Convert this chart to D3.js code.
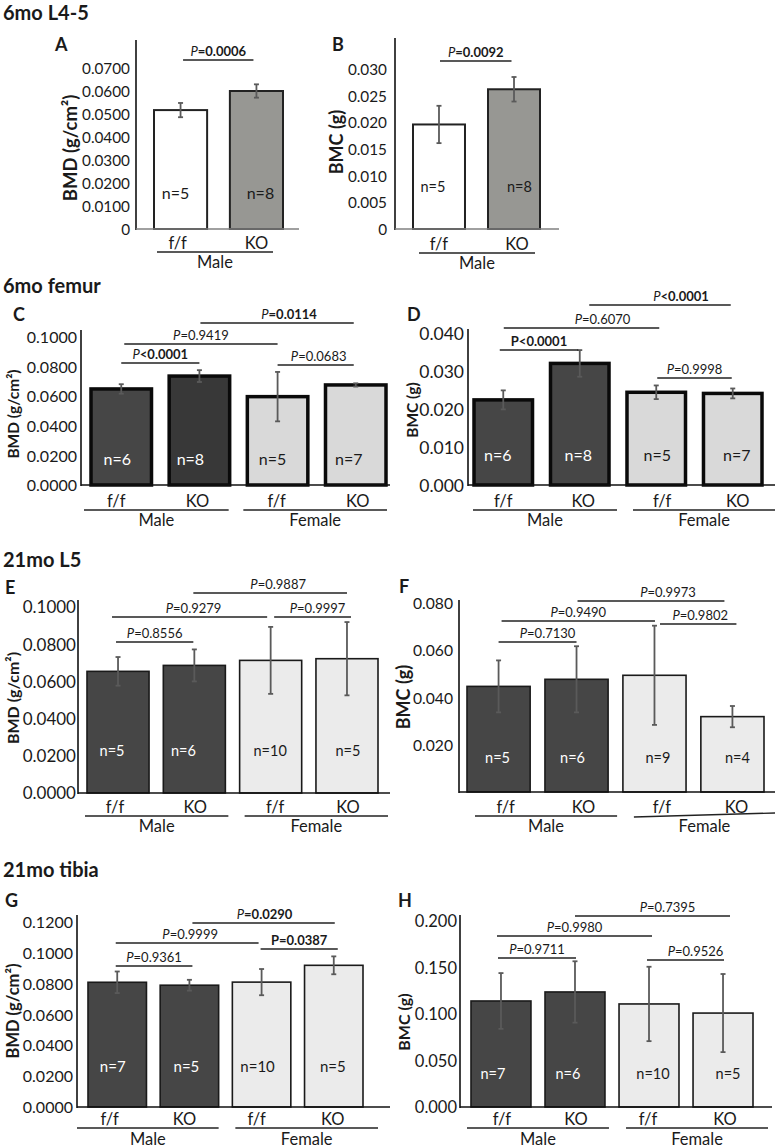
<!DOCTYPE html>
<html><head><meta charset="utf-8">
<script src="https://cdn.jsdelivr.net/npm/d3@7"></script>
<style>
body{margin:0;background:#fff}
svg{display:block}
text{font-family:Lato,"Open Sans",sans-serif;fill:#1a1a1a}
</style>
</head><body>
<svg id="fig" width="776" height="1148"></svg>
<script>
// ---------------- DATA ----------------
const sectionTitles = ["6mo L4-5", "6mo femur", "21mo L5", "21mo tibia"];
const genotypes2 = ["f/f", "KO"];
const genotypes4 = ["f/f", "KO", "f/f", "KO"];
const sexes1 = ["Male"];
const sexes2 = ["Male", "Female"];
const pairs4 = [[0, 1], [0, 2], [1, 3], [2, 3]];

// A: 6mo L4-5 BMD
const ticksA = [0, 0.01, 0.02, 0.03, 0.04, 0.05, 0.06, 0.07];
const meanA = [0.0517, 0.0600];
const errA = [0.0031, 0.0029];
const nA = ["n=5", "n=8"];
const pA = ["P=0.0006"];

// B: 6mo L4-5 BMC
const ticksB = [0, 0.005, 0.010, 0.015, 0.020, 0.025, 0.030];
const meanB = [0.0196, 0.0262];
const errB = [0.0035, 0.0023];
const nB = ["n=5", "n=8"];
const pB = ["P=0.0092"];

// C: 6mo femur BMD
const ticksC = [0, 0.02, 0.04, 0.06, 0.08, 0.10];
const meanC = [0.0649, 0.0736, 0.0597, 0.0676];
const errC = [0.0032, 0.0040, 0.0167, 0.0011];
const nC = ["n=6", "n=8", "n=5", "n=7"];
const pC = ["P<0.0001", "P=0.9419", "P=0.0114", "P=0.0683"];

// D: 6mo femur BMC
const ticksD = [0, 0.010, 0.020, 0.030, 0.040];
const meanD = [0.0224, 0.0320, 0.0244, 0.0241];
const errD = [0.0025, 0.0035, 0.0018, 0.0013];
const nD = ["n=6", "n=8", "n=5", "n=7"];
const pD = ["P<0.0001", "P=0.6070", "P<0.0001", "P=0.9998"];

// E: 21mo L5 BMD
const ticksE = [0, 0.02, 0.04, 0.06, 0.08, 0.10];
const meanE = [0.0654, 0.0686, 0.0713, 0.0722];
const errE = [0.0077, 0.0086, 0.0180, 0.0197];
const nE = ["n=5", "n=6", "n=10", "n=5"];
const pE = ["P=0.8556", "P=0.9279", "P=0.9887", "P=0.9997"];

// F: 21mo L5 BMC
const ticksF = [0.020, 0.040, 0.060, 0.080];
const meanF = [0.0447, 0.0477, 0.0494, 0.0319];
const errF = [0.0110, 0.0140, 0.0210, 0.0045];
const nF = ["n=5", "n=6", "n=9", "n=4"];
const pF = ["P=0.7130", "P=0.9490", "P=0.9973", "P=0.9802"];

// G: 21mo tibia BMD
const ticksG = [0, 0.02, 0.04, 0.06, 0.08, 0.10, 0.12];
const meanG = [0.0809, 0.0790, 0.0810, 0.0919];
const errG = [0.0070, 0.0035, 0.0085, 0.0058];
const nG = ["n=7", "n=5", "n=10", "n=5"];
const pG = ["P=0.9361", "P=0.9999", "P=0.0290", "P=0.0387"];

// H: 21mo tibia BMC
const ticksH = [0, 0.050, 0.100, 0.150, 0.200];
const meanH = [0.114, 0.1237, 0.1108, 0.101];
const errH = [0.030, 0.033, 0.040, 0.042];
const nH = ["n=7", "n=6", "n=10", "n=5"];
const pH = ["P=0.9711", "P=0.9980", "P=0.7395", "P=0.9526"];

// ---------------- LAYOUT / STYLE ----------------
const f4 = v => d3.format(".4f")(v);
const f3 = v => d3.format(".3f")(v);
const DARK = "#464646", DARK2 = "#383838", LIGHTC = "#d9d9d9", LIGHTE = "#ebebeb";
const W = "#ffffff", K = "#1a1a1a";

const svg = d3.select("#fig");

function drawPanel(D, L) {
  const g = svg.append("g");
  const ymax = d3.max(D.ticks);
  const y = d3.scaleLinear().domain([0, ymax]).range([L.y0, L.yTop]);
  const x = d3.scaleBand().domain(d3.range(D.cats.length)).range([L.b0, L.b1])
    .paddingInner(L.pi).paddingOuter(0);
  const cx = i => x(i) + x.bandwidth() / 2;

  // y axis labels
  const axis = d3.axisLeft(y).tickValues(D.ticks).tickSize(0).tickPadding(L.tickGap).tickFormat(L.fmt);
  const ag = g.append("g").attr("transform", `translate(${L.ax},0)`).call(axis);
  ag.select(".domain").remove();
  ag.attr("font-family", null).attr("font-size", null);
  ag.selectAll("text").attr("font-size", L.tickFs).attr("fill", K).attr("dy", "0.35em");

  // bars
  g.selectAll("rect.bar").data(D.mean).join("rect")
    .attr("x", (d, i) => x(i)).attr("width", x.bandwidth())
    .attr("y", d => y(d)).attr("height", d => L.y0 - y(d))
    .attr("fill", (d, i) => L.fills[i]).attr("stroke", L.stroke).attr("stroke-width", L.sw);

  // axis lines
  g.append("line").attr("x1", L.ax).attr("x2", L.ax).attr("y1", L.axTop).attr("y2", L.y0 + 1)
    .attr("stroke", "#111").attr("stroke-width", 1.6);
  g.append("line").attr("x1", L.ax).attr("x2", L.xEnd).attr("y1", L.y0).attr("y2", L.y0)
    .attr("stroke", L.baseColor).attr("stroke-width", 1.6);

  // error bars
  const eg = g.append("g").attr("stroke", "#5a5a5a").attr("stroke-width", 1.8);
  D.mean.forEach((m, i) => {
    const e = D.err[i], c = cx(i);
    eg.append("line").attr("x1", c).attr("x2", c).attr("y1", y(m + e)).attr("y2", y(m - e));
    eg.append("line").attr("x1", c - 2.5).attr("x2", c + 2.5).attr("y1", y(m + e)).attr("y2", y(m + e));
    eg.append("line").attr("x1", c - 2.5).attr("x2", c + 2.5).attr("y1", y(m - e)).attr("y2", y(m - e));
  });

  // n labels
  D.n.forEach((t, i) => {
    g.append("text").attr("x", cx(i) + L.nDx[i]).attr("y", L.nY).attr("dy", "0.35em")
      .attr("text-anchor", "middle").attr("font-size", L.nFs)
      .style("fill", L.nFill[i]).text(t);
  });

  // category labels
  D.cats.forEach((t, i) => {
    g.append("text").attr("x", cx(i) + L.catDx[i]).attr("y", L.catY).attr("dy", "0.35em")
      .attr("text-anchor", "middle").attr("font-size", L.catFs).text(t);
  });

  // group lines and sex labels
  D.groups.forEach((grp, k) => {
    const x1 = x(grp[0]) + L.gOff[k][0];
    const x2 = x(grp[grp.length - 1]) + x.bandwidth() + L.gOff[k][1];
    const dy = L.gDy ? L.gDy[k] : [0, 0];
    g.append("line").attr("x1", x1).attr("x2", x2).attr("y1", L.gY + dy[0]).attr("y2", L.gY + dy[1])
      .attr("stroke", "#222").attr("stroke-width", 1.4);
    g.append("text").attr("x", (x1 + x2) / 2).attr("y", L.sexY).attr("dy", "0.35em")
      .attr("text-anchor", "middle").attr("font-size", L.catFs).text(D.sexes[k]);
  });

  // significance brackets
  D.pairs.forEach((pr, k) => {
    const b = L.br[k];
    const x1 = cx(pr[0]) + b.inset[0], x2 = cx(pr[1]) + b.inset[1];
    g.append("line").attr("x1", x1).attr("x2", x2).attr("y1", b.y).attr("y2", b.y)
      .attr("stroke", "#222").attr("stroke-width", 1.5);
    const label = D.p[k];
    const t = g.append("text").attr("x", (x1 + x2) / 2 + b.dx).attr("y", b.y - 4)
      .attr("text-anchor", "middle").attr("font-size", L.pFs);
    t.append("tspan").text(label.slice(0, 1))
      .attr("font-style", b.st === "bb" ? "normal" : "italic")
      .attr("font-weight", b.st === "bb" ? "bold" : "normal");
    t.append("tspan").text(label.slice(1))
      .attr("font-weight", b.st === "in" ? "normal" : "bold");
  });

  // panel letter
  g.append("text").attr("x", L.lx).attr("y", L.ly).attr("font-size", 18).attr("font-weight", "bold").text(L.letter);

  // y title
  g.append("text").attr("transform", `translate(${L.ytx},${L.yty}) rotate(-90)`)
    .attr("text-anchor", "middle").attr("dy", "0.35em")
    .attr("font-size", L.ytFs).attr("font-weight", "bold").text(L.yTitle);
}

// section titles
const titleY = [20, 293, 567, 877];
sectionTitles.forEach((t, i) => {
  svg.append("text").attr("x", 3).attr("y", titleY[i]).attr("font-size", 20)
    .attr("font-weight", "bold").text(t);
});

const fmtA = v => v === 0 ? "0" : f4(v);
const fmtB = v => v === 0 ? "0" : f3(v);

drawPanel(
  {cats: genotypes2, sexes: sexes1, groups: [[0, 1]], ticks: ticksA, mean: meanA, err: errA, n: nA, p: pA, pairs: [[0, 1]]},
  {ax: 136, axTop: 40, y0: 229, yTop: 68, xEnd: 299, b0: 154, b1: 283, pi: 0.30,
   tickFs: 15.3, tickGap: 6, fmt: fmtA, fills: [W, "#979793"], stroke: "#222", sw: 2, baseColor: "#808080",
   nFill: [K, K], nFs: 16, nY: 193, nDx: [-5, 4], catY: 243, catDx: [-3, 0], catFs: 16.5,
   gOff: [[3, -10]], gY: 252, sexY: 262, pFs: 13,
   br: [{y: 60, dx: 0, inset: [2.5, -3], st: "ib"}],
   letter: "A", lx: 55, ly: 51, yTitle: "BMD (g/cm²)", ytx: 71, yty: 148, ytFs: 18.5});

drawPanel(
  {cats: genotypes2, sexes: sexes1, groups: [[0, 1]], ticks: ticksB, mean: meanB, err: errB, n: nB, p: pB, pairs: [[0, 1]]},
  {ax: 395, axTop: 38, y0: 229, yTop: 69, xEnd: 559, b0: 413, b1: 540, pi: 0.307,
   tickFs: 15.3, tickGap: 8, fmt: fmtB, fills: [W, "#979793"], stroke: "#222", sw: 2, baseColor: "#808080",
   nFill: [K, K], nFs: 14.5, nY: 187, nDx: [-6, 5.5], catY: 244, catDx: [0, 3], catFs: 16.5,
   gOff: [[6, -5]], gY: 253, sexY: 263, pFs: 13,
   br: [{y: 61, dx: 0, inset: [1, -2.5], st: "ib"}],
   letter: "B", lx: 332, ly: 51, yTitle: "BMC (g)", ytx: 337, yty: 142, ytFs: 18});

drawPanel(
  {cats: genotypes4, sexes: sexes2, groups: [[0, 1], [2, 3]], ticks: ticksC, mean: meanC, err: errC, n: nC, p: pC, pairs: pairs4},
  {ax: 81, axTop: 330, y0: 485, yTop: 337, xEnd: 390, b0: 91, b1: 386, pi: 0.226,
   tickFs: 16, tickGap: 4, fmt: f4, fills: [DARK, DARK2, LIGHTC, LIGHTC], stroke: "#0a0a0a", sw: 3.5, baseColor: "#111",
   nFill: [W, W, K, K], nFs: 16, nY: 459, nDx: [-4, -9, -5, -7], catY: 501, catDx: [-5, -2, -1, 2], catFs: 16.5,
   gOff: [[-7, -1], [-4, 1]], gY: 510, sexY: 520, pFs: 13,
   br: [{y: 363, dx: 0, inset: [0, 0], st: "ib"}, {y: 344, dx: 0, inset: [3, 0], st: "in"},
        {y: 323, dx: 12, inset: [1, -2], st: "ib"}, {y: 365, dx: 3, inset: [0, -2], st: "in"}],
   letter: "C", lx: 13, ly: 321, yTitle: "BMD (g/cm²)", ytx: 14, yty: 414, ytFs: 15.5});

drawPanel(
  {cats: genotypes4, sexes: sexes2, groups: [[0, 1], [2, 3]], ticks: ticksD, mean: meanD, err: errD, n: nD, p: pD, pairs: pairs4},
  {ax: 468, axTop: 329, y0: 485, yTop: 333, xEnd: 775, b0: 474, b1: 762, pi: 0.235,
   tickFs: 17.5, tickGap: 4, fmt: f3, fills: [DARK, DARK, LIGHTC, LIGHTC], stroke: "#0a0a0a", sw: 3.5, baseColor: "#111",
   nFill: [W, W, K, K], nFs: 16, nY: 455, nDx: [-5.5, -1.5, 1, 4], catY: 501, catDx: [0, 3.5, 6, 5], catFs: 16.5,
   gOff: [[-1, 8], [6, 13]], gY: 510, sexY: 520, pFs: 13,
   br: [{y: 350, dx: 0, inset: [-3.5, -1.5], st: "bb"}, {y: 328, dx: 21, inset: [0.5, 3], st: "in"},
        {y: 305, dx: 21, inset: [9.5, -2], st: "ib"}, {y: 378, dx: 0, inset: [1, -1], st: "in"}],
   letter: "D", lx: 407, ly: 321, yTitle: "BMC (g)", ytx: 413, yty: 410, ytFs: 15.5});

drawPanel(
  {cats: genotypes4, sexes: sexes2, groups: [[0, 1], [2, 3]], ticks: ticksE, mean: meanE, err: errE, n: nE, p: pE, pairs: pairs4},
  {ax: 78, axTop: 600, y0: 793, yTop: 607, xEnd: 390, b0: 87, b1: 378, pi: 0.187,
   tickFs: 17, tickGap: 2, fmt: f4, fills: [DARK, DARK, LIGHTE, LIGHTE], stroke: "#1a1a1a", sw: 1.6, baseColor: "#111",
   nFill: [W, W, K, K], nFs: 14.5, nY: 751, nDx: [-6, -11, -0.5, 1], catY: 807, catDx: [-3, 1, 4.5, 1], catFs: 16.5,
   gOff: [[-2, 3], [5, 10]], gY: 816, sexY: 826, pFs: 13,
   br: [{y: 642, dx: 0, inset: [-2, -1], st: "in"}, {y: 617, dx: 4, inset: [-6, -3.5], st: "in"},
        {y: 593, dx: 8, inset: [-1, 0], st: "in"}, {y: 617, dx: 5, inset: [3.5, 4], st: "in"}],
   letter: "E", lx: 5, ly: 594, yTitle: "BMD (g/cm²)", ytx: 13.5, yty: 698, ytFs: 16});

drawPanel(
  {cats: genotypes4, sexes: sexes2, groups: [[0, 1], [2, 3]], ticks: ticksF, mean: meanF, err: errF, n: nF, p: pF, pairs: pairs4},
  {ax: 459, axTop: 600, y0: 792, yTop: 603, xEnd: 775, b0: 467, b1: 764, pi: 0.19,
   tickFs: 15.7, tickGap: 6, fmt: f3, fills: [DARK, DARK, LIGHTE, LIGHTE], stroke: "#1a1a1a", sw: 1.6, baseColor: "#111",
   nFill: [W, W, K, K], nFs: 14.5, nY: 758, nDx: [-1, -4, 3.5, 5], catY: 807, catDx: [7, 7, 7.5, 4], catFs: 16.5,
   gOff: [[8, 9], [11, 11]], gDy: [[0, 0], [1, -3]], gY: 816, sexY: 826, pFs: 13,
   br: [{y: 642, dx: 10, inset: [0, 0], st: "in"}, {y: 621, dx: 0, inset: [3, 0.5], st: "in"},
        {y: 601, dx: 17, inset: [1, -8], st: "in"}, {y: 624, dx: 2, inset: [5.5, 4], st: "in"}],
   letter: "F", lx: 399, ly: 593, yTitle: "BMC (g)", ytx: 404, yty: 697, ytFs: 18});

drawPanel(
  {cats: genotypes4, sexes: sexes2, groups: [[0, 1], [2, 3]], ticks: ticksG, mean: meanG, err: errG, n: nG, p: pG, pairs: pairs4},
  {ax: 77, axTop: 915, y0: 1107, yTop: 922, xEnd: 390, b0: 88, b1: 363, pi: 0.19,
   tickFs: 16, tickGap: 4, fmt: f4, fills: [DARK, DARK, LIGHTE, LIGHTE], stroke: "#1a1a1a", sw: 1.6, baseColor: "#111",
   nFill: [W, W, K, K], nFs: 15, nY: 1067, nDx: [-4.5, -3, -4, -1], catY: 1119, catDx: [-7.5, -5, -5, -1], catFs: 16.5,
   gOff: [[-11, 0], [3, 15]], gY: 1128, sexY: 1139, pFs: 13,
   br: [{y: 966, dx: 0, inset: [-1.5, 3], st: "in"}, {y: 943, dx: 3, inset: [-1.5, -3], st: "in"},
        {y: 923, dx: 1, inset: [3, 1], st: "ib"}, {y: 949, dx: 0, inset: [-1, 4], st: "bb"}],
   letter: "G", lx: 5, ly: 907, yTitle: "BMD (g/cm²)", ytx: 13, yty: 1011, ytFs: 16.5});

drawPanel(
  {cats: genotypes4, sexes: sexes2, groups: [[0, 1], [2, 3]], ticks: ticksH, mean: meanH, err: errH, n: nH, p: pH, pairs: pairs4},
  {ax: 460, axTop: 915, y0: 1107, yTop: 921, xEnd: 772, b0: 471, b1: 753, pi: 0.19,
   tickFs: 16.5, tickGap: 3, fmt: f3, fills: [DARK, DARK, LIGHTE, LIGHTE], stroke: "#1a1a1a", sw: 1.6, baseColor: "#111",
   nFill: [W, W, K, K], nFs: 14.5, nY: 1074, nDx: [-8, -7, 4, 5], catY: 1119, catDx: [1, 1, -1, 2], catFs: 16.5,
   gOff: [[-4, 4], [7, 15]], gY: 1128, sexY: 1139, pFs: 13,
   br: [{y: 958, dx: 0, inset: [-3, 1], st: "in"}, {y: 936, dx: 0, inset: [-4, 3], st: "in"},
        {y: 916, dx: 15, inset: [0, 7], st: "in"}, {y: 960, dx: 10, inset: [-2, 1], st: "in"}],
   letter: "H", lx: 398, ly: 907, yTitle: "BMC (g)", ytx: 404, yty: 1022, ytFs: 16});
</script>
</body></html>
